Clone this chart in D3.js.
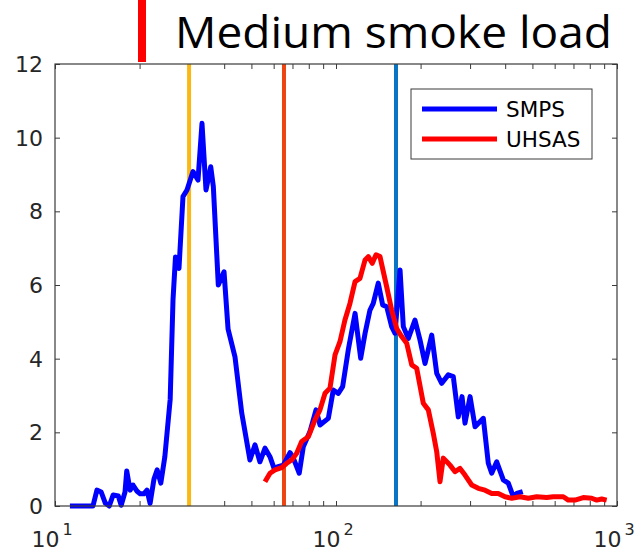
<!DOCTYPE html>
<html>
<head>
<meta charset="utf-8">
<script src="https://cdn.jsdelivr.net/npm/d3@7"></script>
<style>
  html, body { margin: 0; padding: 0; background: #ffffff; }
  svg { display: block; }
</style>
</head>
<body>
<svg id="chart" width="643" height="552"></svg>
<script>
// Size distributions (diameter in nm, concentration)
const smpsDiameter = [11.3, 13.65, 14.1, 14.6, 15.1, 15.6, 16.1, 16.8, 17.2, 17.75, 18.0, 18.5, 18.95, 19.6, 20.1, 20.7, 21.25, 21.8, 22.5, 23.1, 23.8, 24.6, 25.7, 26.3, 26.84, 27.62, 28.54, 29.49, 30.98, 32.28, 33.35, 34.46, 35.83, 36.6, 38.12, 39.95, 41.3, 43.7, 46.2, 49.4, 51.5, 53.6, 55.9, 58.2, 60.2, 62.3, 64.9, 68.6, 70.5, 74.0, 76.5, 80.8, 84.9, 87.7, 93.9, 97.8, 101.9, 105.6, 110.6, 116.9, 122.4, 126.9, 132.1, 135.7, 141.4, 146.6, 151.5, 157.8, 162.2, 169.0, 173.6, 180.9, 191.0, 199.0, 207.4, 219.1, 228.3, 237.8, 250.9, 261.5, 272.4, 280.8, 287.8, 300.0, 312.5, 334.4, 348.3, 358.2, 373.2, 393.9, 410.4, 427.6, 439.7, 461.8];
const smpsConc = [0, 0, 0.43, 0.38, 0.08, 0, 0.3, 0.27, 0.02, 0.38, 0.95, 0.43, 0.57, 0.4, 0.33, 0.33, 0.43, 0.07, 0.73, 0.98, 0.62, 1.34, 2.9, 5.6, 6.76, 6.45, 8.4, 8.58, 9.08, 8.85, 10.39, 8.58, 9.21, 8.67, 6.0, 6.36, 4.8, 4.05, 2.52, 1.25, 1.66, 1.2, 1.57, 1.34, 1.02, 1.07, 1.11, 1.45, 1.3, 0.89, 1.61, 2.02, 2.61, 2.2, 2.38, 3.15, 3.06, 3.24, 4.24, 5.23, 4.01, 4.69, 5.32, 5.5, 6.05, 5.46, 5.41, 4.87, 4.69, 6.41, 4.87, 4.55, 5.05, 4.51, 3.87, 4.64, 3.6, 3.33, 3.56, 3.51, 2.42, 2.97, 2.25, 2.97, 2.15, 2.38, 1.16, 0.89, 1.2, 0.71, 0.62, 0.25, 0.34, 0.39];

const uhsasDiameter = [55.88, 58.22, 60.66, 64.09, 66.77, 69.56, 72.47, 75.5, 79.7, 84.2, 87.7, 91.4, 95.2, 99.2, 103.3, 107.6, 112.1, 116.9, 121.7, 126.9, 130.3, 134.6, 138.8, 143.4, 151.5, 157.8, 164.4, 171.3, 178.5, 186.0, 193.7, 204.5, 213.1, 222.0, 228.3, 234.5, 240.9, 250.9, 254.5, 265.2, 276.3, 287.8, 304.1, 320.9, 339.0, 358.2, 378.1, 399.5, 422.0, 451.6, 483.4, 517.9, 562.2, 593.4, 644.2, 671.1, 708.9, 758.8, 812.8, 846.8, 882.2, 918.9];
const uhsasConc = [0.66, 0.89, 0.98, 1.04, 1.16, 1.25, 1.43, 1.75, 1.88, 2.34, 2.61, 3.06, 3.2, 4.1, 4.46, 5.05, 5.5, 6.09, 6.18, 6.68, 6.77, 6.59, 6.82, 6.77, 5.95, 5.32, 4.82, 4.6, 4.42, 3.83, 3.74, 2.79, 2.61, 1.97, 1.47, 0.66, 1.3, 1.16, 1.11, 0.93, 1.02, 0.84, 0.57, 0.48, 0.43, 0.34, 0.34, 0.25, 0.21, 0.25, 0.21, 0.25, 0.23, 0.25, 0.25, 0.16, 0.16, 0.23, 0.21, 0.16, 0.19, 0.16];

// Reference diameters drawn as vertical lines
const markerDiameters = [30.0, 65.3, 163.5];
const markerColors = ["#fbb714", "#ee4412", "#0a74c4"];

// Axis ticks
const yTickValues = [0, 2, 4, 6, 8, 10, 12];
const xTickExponents = [1, 2, 3];

const seriesNames = ["SMPS", "UHSAS"];
const seriesColors = ["#0000ff", "#ff0000"];

const svg = d3.select("#chart");
const plot = { left: 55, right: 617, top: 64, bottom: 506 };

const x = d3.scaleLog().domain([10, 1000]).range([plot.left, plot.right]);
const y = d3.scaleLinear().domain([0, 12]).range([plot.bottom, plot.top]);

const axisColor = "#3a3a3a";
const tickFont = "'DejaVu Sans', sans-serif";

// Slide heading with accent bar
svg.append("rect")
  .attr("x", 138).attr("y", 0).attr("width", 8).attr("height", 62)
  .attr("fill", "#ff0000");
svg.append("text")
  .attr("x", 175).attr("y", 48)
  .attr("font-family", "'Open Sans', 'Noto Sans', sans-serif")
  .attr("font-size", 44)
  .attr("fill", "#000")
  .attr("textLength", 437)
  .attr("lengthAdjust", "spacingAndGlyphs")
  .text("Medium smoke load");

// Plot background
svg.append("rect")
  .attr("x", plot.left).attr("y", plot.top)
  .attr("width", plot.right - plot.left).attr("height", plot.bottom - plot.top)
  .attr("fill", "#fff");

// Log-scale tick positions (major + minor)
const xAllTicks = [];
for (let e = 1; e < 3; e++) {
  for (let m = 1; m < 10; m++) xAllTicks.push(m * Math.pow(10, e));
}
xAllTicks.push(1000);

// Tick marks pointing inward on all four sides
const tickLen = 5;
svg.append("g").attr("transform", `translate(0,${plot.bottom})`)
  .call(d3.axisBottom(x).tickValues(xAllTicks).tickSize(-tickLen).tickFormat("").tickSizeOuter(0));
svg.append("g").attr("transform", `translate(0,${plot.top})`)
  .call(d3.axisTop(x).tickValues(xAllTicks).tickSize(-tickLen).tickFormat("").tickSizeOuter(0));
svg.append("g").attr("transform", `translate(${plot.left},0)`)
  .call(d3.axisLeft(y).tickValues(yTickValues).tickSize(-tickLen).tickFormat("").tickSizeOuter(0));
svg.append("g").attr("transform", `translate(${plot.right},0)`)
  .call(d3.axisRight(y).tickValues(yTickValues).tickSize(-tickLen).tickFormat("").tickSizeOuter(0));
svg.selectAll(".domain").remove();
svg.selectAll(".tick line").attr("stroke", axisColor).attr("stroke-width", 1);

// Reference lines
const markers = svg.append("g");
markerDiameters.forEach((d, i) => {
  markers.append("line")
    .attr("x1", x(d)).attr("x2", x(d))
    .attr("y1", y(12)).attr("y2", y(0))
    .attr("stroke", markerColors[i]).attr("stroke-width", 4);
});

// Distribution curves
const line = d3.line()
  .x(p => x(p[0]))
  .y(p => y(p[1]));
const seriesData = [
  d3.zip(smpsDiameter, smpsConc),
  d3.zip(uhsasDiameter, uhsasConc)
];
seriesData.forEach((pts, i) => {
  svg.append("path")
    .datum(pts)
    .attr("d", line)
    .attr("fill", "none")
    .attr("stroke", seriesColors[i])
    .attr("stroke-width", 5)
    .attr("stroke-linejoin", "round");
});

// Axes box
svg.append("rect")
  .attr("x", plot.left).attr("y", plot.top)
  .attr("width", plot.right - plot.left).attr("height", plot.bottom - plot.top)
  .attr("fill", "none").attr("stroke", axisColor).attr("stroke-width", 1.2);

// Y tick labels
svg.append("g").selectAll("text")
  .data(yTickValues)
  .join("text")
  .attr("x", 43)
  .attr("y", d => y(d))
  .attr("dy", "0.36em")
  .attr("text-anchor", "end")
  .attr("font-family", tickFont)
  .attr("font-size", 22)
  .attr("fill", "#262626")
  .text(d => d);

// X tick labels: 10 with superscript exponent
const xl = svg.append("g").selectAll("text")
  .data(xTickExponents)
  .join("text")
  .attr("x", e => x(Math.pow(10, e)) - 3)
  .attr("y", 547)
  .attr("text-anchor", "middle")
  .attr("font-family", tickFont)
  .attr("font-size", 22)
  .attr("fill", "#262626");
xl.append("tspan").text("10");
xl.append("tspan")
  .attr("font-size", 16)
  .attr("dx", 3)
  .attr("dy", -12)
  .text(e => e);

// Legend
const legend = svg.append("g");
legend.append("rect")
  .attr("x", 411).attr("y", 89).attr("width", 181).attr("height", 70)
  .attr("fill", "#fff").attr("stroke", axisColor).attr("stroke-width", 1);
seriesNames.forEach((name, i) => {
  const ly = 109 + i * 30;
  legend.append("line")
    .attr("x1", 422).attr("x2", 497).attr("y1", ly).attr("y2", ly)
    .attr("stroke", seriesColors[i]).attr("stroke-width", 5);
  legend.append("text")
    .attr("x", 506).attr("y", ly).attr("dy", "0.36em")
    .attr("font-family", tickFont)
    .attr("font-size", 21.5)
    .attr("fill", "#000")
    .text(name);
});
</script>
</body>
</html>
